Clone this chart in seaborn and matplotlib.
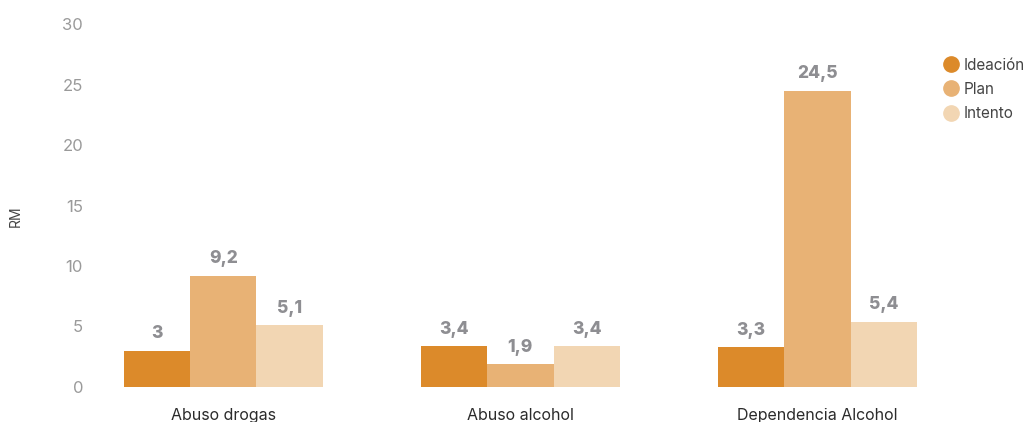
import matplotlib
matplotlib.use("Agg")
import matplotlib.pyplot as plt
import seaborn as sns
import pandas as pd
from matplotlib.lines import Line2D

categories = ["Abuso drogas", "Abuso alcohol", "Dependencia Alcohol"]
series = ["Ideación", "Plan", "Intento"]
ideacion = [3.0, 3.4, 3.3]
plan = [9.2, 1.9, 24.5]
intento = [5.1, 3.4, 5.4]
yticks = [0, 5, 10, 15, 20, 25, 30]

colors = ["#DC8A2A", "#E8B275", "#F2D6B3"]

sns.set_theme(style="white")
plt.rcParams["font.family"] = ["Inter", "DejaVu Sans"]

rows = []
for s, vals in zip(series, [ideacion, plan, intento]):
    for c, v in zip(categories, vals):
        rows.append({"cat": c, "serie": s, "RM": v})
df = pd.DataFrame(rows)

fig = plt.figure(figsize=(10.27, 4.22), dpi=100)
ax = fig.add_axes([0.093, 0.083, 0.81, 0.860])

sns.barplot(data=df, x="cat", y="RM", hue="serie", hue_order=series,
            order=categories, palette=colors, width=0.67, gap=0,
            saturation=1, linewidth=0, ax=ax, legend=False)

ax.set_ylim(0, 30)
ax.set_xlim(-0.43, 2.37)
ax.set_yticks(yticks)
ax.set_yticklabels([str(t) for t in yticks], color="#9A9A9A", fontsize=12)
ax.tick_params(axis="y", length=0, pad=9)
ax.tick_params(axis="x", length=0, pad=15, labelsize=11.5, labelcolor="#2B2B2B")
ax.set_xlabel("")
ax.set_ylabel("RM", fontsize=10, color="#444444")
ax.yaxis.set_label_coords(-0.087, 0.47)
for sp in ax.spines.values():
    sp.set_visible(False)

for cont in ax.containers:
    for bar, val in zip(cont, cont.datavalues):
        txt = f"{val:g}".replace(".", ",")
        ax.annotate(txt, (bar.get_x() + bar.get_width() / 2, bar.get_height()),
                    xytext=(0, 6), textcoords="offset points",
                    ha="center", va="bottom", fontsize=12.5,
                    fontweight="heavy", color="#8E8E92")

handles = [Line2D([0], [0], marker="o", linestyle="", markersize=11,
                  markerfacecolor=c, markeredgecolor=c) for c in colors]
leg = fig.legend(handles, series, loc="upper left", bbox_to_anchor=(0.913, 0.878),
                 frameon=False, handletextpad=0.3, labelspacing=0.6,
                 fontsize=11, handlelength=1.0, borderaxespad=0)
for t in leg.get_texts():
    t.set_color("#444444")

fig.savefig("out.png", dpi=100)
